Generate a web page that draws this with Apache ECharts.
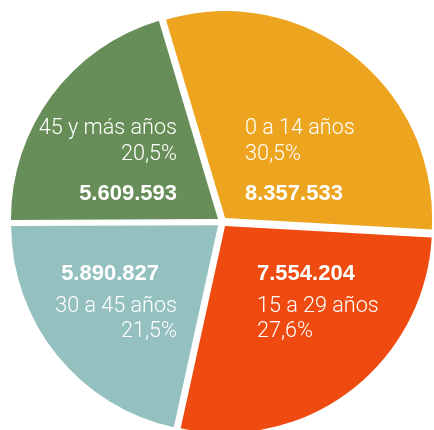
<!DOCTYPE html>
<html>
<head>
<meta charset="utf-8">
<script src="https://cdn.jsdelivr.net/npm/echarts@6/dist/echarts.min.js"></script>
<style>
html,body{margin:0;padding:0;background:#fff;}
#chart{width:434px;height:430px;}
</style>
</head>
<body>
<div id="chart"></div>
<script>
// Data
var categories = ['0 a 14 años', '15 a 29 años', '30 a 45 años', '45 y más años'];
var values = [8357533, 7554204, 5890827, 5609593];
var colors = ['#EDA41F', '#EF4A0F', '#94C0C0', '#678E58'];

function fmtThousands(v) {
  return String(v).replace(/\B(?=(\d{3})+(?!\d))/g, '.');
}
function fmtPct(p) {
  return p.toFixed(1).replace('.', ',') + '%';
}

// label placement (pixels) and alignment per slice
var labelPlaces = [
  {x: 245, y: 116, align: 'left', top: true},
  {x: 257, y: 254, align: 'left', top: false},
  {x: 177, y: 254, align: 'right', top: false},
  {x: 177, y: 116, align: 'right', top: true}
];

var chart = echarts.init(document.getElementById('chart'), null, {renderer: 'canvas'});

var sliceData = categories.map(function (c, i) {
  return {
    name: c,
    value: values[i],
    selected: true,
    itemStyle: {color: colors[i]},
    select: {itemStyle: {color: colors[i], borderWidth: 0}}
  };
});
var labelData = categories.map(function (c, i) {
  return {name: c, value: values[i]};
});

var lightFont = 'Roboto';
var boldFont = '"Liberation Sans", Arial, sans-serif';
var nameSize = 21.6;

chart.setOption({
  animation: false,
  series: [{
    type: 'pie',
    center: [222, 222],
    radius: [0, 207],
    startAngle: 106.6,
    clockwise: true,
    selectedMode: 'multiple',
    selectedOffset: 5,
    avoidLabelOverlap: false,
    emphasis: {disabled: true},
    data: sliceData,
    label: {show: false},
    labelLine: {show: false}
  }, {
    type: 'pie',
    center: [222, 222],
    radius: [0, 207],
    startAngle: 106.6,
    clockwise: true,
    silent: true,
    z: 5,
    avoidLabelOverlap: false,
    emphasis: {disabled: true},
    itemStyle: {color: 'rgba(0,0,0,0)'},
    data: labelData,
    labelLine: {show: false},
    label: {
      show: true,
      position: 'inside',
      formatter: function (p) {
        var val = fmtThousands(p.value);
        var pct = fmtPct(p.percent);
        if (labelPlaces[p.dataIndex].top) {
          return '{n|' + p.name + '}\n{p|' + pct + '}\n{v|' + val + '}';
        }
        if (p.dataIndex === 2) {
          return '{v2|' + val + '}\n{n2|' + p.name + '}\n{p2|' + pct + '}';
        }
        return '{v3|' + val + '}\n{n2|' + p.name + '}\n{p2|' + pct + '}';
      },
      rich: {
        n: {fontFamily: lightFont, fontWeight: 300, fontSize: nameSize, color: '#fff', lineHeight: 26},
        p: {fontFamily: lightFont, fontWeight: 300, fontSize: nameSize, color: '#fff', lineHeight: 26},
        v: {fontFamily: boldFont, fontWeight: 'bold', fontSize: 22, color: '#fff', lineHeight: 52},
        v2: {fontFamily: boldFont, fontWeight: 'bold', fontSize: 22, color: '#fff', lineHeight: 40, align: 'right', padding: [0, 18, 0, 0]},
        v3: {fontFamily: boldFont, fontWeight: 'bold', fontSize: 22, color: '#fff', lineHeight: 40},
        n2: {fontFamily: lightFont, fontWeight: 300, fontSize: nameSize, color: '#fff', lineHeight: 25},
        p2: {fontFamily: lightFont, fontWeight: 300, fontSize: nameSize, color: '#fff', lineHeight: 25}
      }
    },
    labelLayout: function (params) {
      var lp = labelPlaces[params.dataIndex];
      return {x: lp.x, y: lp.y, align: lp.align, verticalAlign: 'top'};
    }
  }]
});
</script>
</body>
</html>
